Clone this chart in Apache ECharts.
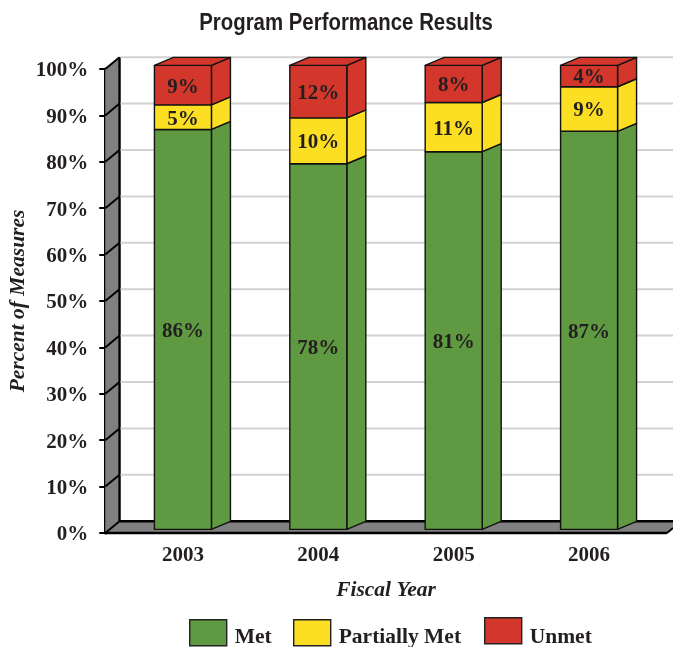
<!DOCTYPE html>
<html>
<head>
<meta charset="utf-8">
<style>html,body{margin:0;padding:0;background:#fff}#c{width:673px;height:647px}</style>
<script src="https://cdn.jsdelivr.net/npm/echarts@6/dist/echarts.min.js"></script>
</head>
<body>
<div id="c"></div>
<script>
const categories = ['2003', '2004', '2005', '2006'];
const met = [86.2, 78.8, 81.4, 85.8];
const partiallyMet = [5.3, 9.9, 10.6, 9.6];
const unmet = [8.5, 11.3, 8, 4.6];
const metLabels = ['86%', '78%', '81%', '87%'];
const partiallyMetLabels = ['5%', '10%', '11%', '9%'];
const unmetLabels = ['9%', '12%', '8%', '4%'];
const yTicks = [0, 10, 20, 30, 40, 50, 60, 70, 80, 90, 100];
const chartTitle = 'Program Performance Results';

const GREEN = '#5f9a42', YELLOW = '#fcdf22', RED = '#d3372b';
const SERIF = '"Liberation Serif", "DejaVu Serif", serif';
const INK = '#231f20';

// depth of the pseudo-3D look
const wallDX = 14.3, wallDY = -11.8, barDX = 19, barDY = -8, barLift = 3.6, barW = 57;
const axisOffset = 10;

function stackRows(values, lower, labels) {
  return values.map((v, i) => [i, lower[i], lower[i] + v, labels[i]]);
}
const base0 = categories.map(() => 0);
const base1 = met.slice();
const base2 = met.map((v, i) => v + partiallyMet[i]);

function renderBar(color) {
  return function (params, api) {
    const i = api.value(0);
    const low = api.coord([i, api.value(1)]);
    const high = api.coord([i, api.value(2)]);
    const x0 = low[0] - barW / 2, x1 = x0 + barW;
    const y0 = low[1] - barLift, y1 = high[1] - barLift;
    const st = { fill: color, stroke: '#111', lineWidth: 1.4, lineJoin: 'round' };
    const kids = [
      { type: 'polygon', shape: { points: [[x1, y0], [x1 + barDX, y0 + barDY], [x1 + barDX, y1 + barDY], [x1, y1]] }, style: st },
      { type: 'rect', shape: { x: x0, y: y1, width: barW, height: y0 - y1 }, style: st }
    ];
    if (params.seriesIndex === 3) {
      kids.push({ type: 'polygon', shape: { points: [[x0, y1], [x0 + barDX, y1 + barDY], [x1 + barDX, y1 + barDY], [x1, y1]] }, style: st });
    }
    kids.push({
      type: 'text',
      style: {
        text: api.value(3), x: (x0 + x1) / 2, y: (y0 + y1) / 2 + 2,
        align: 'center', verticalAlign: 'middle',
        font: 'bold 21px ' + SERIF, fill: INK
      }
    });
    return { type: 'group', children: kids };
  };
}

function renderWalls(params, api) {
  const v = api.value(0);
  const first = api.coord([0, v]);
  const yTop = api.coord([0, 100])[1], yBot = api.coord([0, 0])[1];
  const size = api.size([1, 0]);
  const x = first[0] - size[0] / 2 - axisOffset;
  const y = first[1];
  const bx = x + wallDX, W = api.getWidth();
  const kids = [];
  if (v === 0) {
    kids.push({ type: 'polygon', shape: { points: [[x, yBot], [x, yTop], [bx, yTop + wallDY], [bx, yBot + wallDY]] }, style: { fill: '#808080' } });
    kids.push({ type: 'polygon', shape: { points: [[x, yBot], [bx, yBot + wallDY], [W, yBot + wallDY], [W, yBot - 5], [W - 6, yBot]] }, style: { fill: '#808080' } });
    kids.push({ type: 'line', shape: { x1: bx, y1: yTop + wallDY, x2: bx, y2: yBot + wallDY }, style: { stroke: '#000', lineWidth: 2.4 } });
    kids.push({ type: 'line', shape: { x1: bx, y1: yBot + wallDY, x2: W, y2: yBot + wallDY }, style: { stroke: '#000', lineWidth: 2.4 } });
    kids.push({ type: 'line', shape: { x1: x, y1: yBot, x2: W - 6, y2: yBot }, style: { stroke: '#000', lineWidth: 2.4 } });
    kids.push({ type: 'line', shape: { x1: W - 6, y1: yBot, x2: W, y2: yBot - 5 }, style: { stroke: '#000', lineWidth: 2 } });
  } else {
    kids.push({ type: 'line', shape: { x1: bx + 1, y1: y + wallDY, x2: W, y2: y + wallDY }, style: { stroke: '#d2d2d2', lineWidth: 2 } });
  }
  kids.push({ type: 'line', shape: { x1: x, y1: y, x2: bx, y2: y + wallDY }, style: { stroke: '#000', lineWidth: 2 } });
  return { type: 'group', children: kids };
}

function swatchLegend(name, left, top, textPad) {
  return {
    data: [name], left: left, top: top, padding: 0,
    itemWidth: 37, itemHeight: 26, icon: 'rect', selectedMode: false,
    itemStyle: { borderColor: '#222', borderWidth: 1.4 },
    formatter: n => '{t|' + n + '}',
    textStyle: {
      rich: { t: { fontFamily: SERIF, fontWeight: 'bold', fontSize: 21.5, color: INK, padding: [textPad, 0, 0, 3] } }
    }
  };
}

const chart = echarts.init(document.getElementById('c'), null, { renderer: 'canvas', width: 673, height: 647 });
chart.setOption({
  animation: false,
  backgroundColor: '#fff',
  graphic: [{
    type: 'text', x: 346, y: 23, scaleX: 0.85, z: 10,
    style: { text: chartTitle, align: 'center', verticalAlign: 'middle', font: 'bold 24px "Liberation Sans", sans-serif', fill: INK }
  }],
  legend: [swatchLegend('Met', 189, 619, 10), swatchLegend('Partially Met', 293, 619, 10), swatchLegend('Unmet', 484, 617, 14)],
  grid: { left: 115.25, width: 541.5, top: 69, height: 464, outerBoundsMode: 'none', containLabel: false },
  xAxis: {
    type: 'category', data: categories,
    axisLine: { show: false }, axisTick: { show: false }, splitLine: { show: false },
    axisLabel: { margin: 12, fontFamily: SERIF, fontWeight: 'bold', fontSize: 21, color: INK },
    name: 'Fiscal Year', nameLocation: 'middle', nameGap: 46, nameMoveOverlap: false,
    nameTextStyle: { fontFamily: SERIF, fontWeight: 'bold', fontStyle: 'italic', fontSize: 21.5, color: INK }
  },
  yAxis: {
    type: 'value', min: 0, max: 100, interval: 10, offset: axisOffset,
    axisLine: { show: true, lineStyle: { color: '#000', width: 3 } },
    axisTick: { show: true, length: 6, lineStyle: { color: '#000', width: 2 } },
    splitLine: { show: false },
    axisLabel: {
      margin: 17, formatter: '{t|{value}%}',
      rich: { t: { fontFamily: SERIF, fontWeight: 'bold', fontSize: 21, color: INK, padding: [4, 0, 0, 0] } }
    },
    name: 'Percent of Measures', nameLocation: 'middle', nameGap: 76, nameRotate: 90, nameMoveOverlap: false,
    nameTextStyle: { fontFamily: SERIF, fontWeight: 'bold', fontStyle: 'italic', fontSize: 21.5, color: INK }
  },
  series: [
    { type: 'custom', name: 'walls', silent: true, z: 1, data: yTicks.map(v => [v]), renderItem: renderWalls, encode: { y: 0 }, clip: false },
    { type: 'custom', name: 'Met', z: 3, itemStyle: { color: GREEN }, data: stackRows(met, base0, metLabels), renderItem: renderBar(GREEN), encode: { x: 0, y: [1, 2] } },
    { type: 'custom', name: 'Partially Met', z: 3, itemStyle: { color: YELLOW }, data: stackRows(partiallyMet, base1, partiallyMetLabels), renderItem: renderBar(YELLOW), encode: { x: 0, y: [1, 2] } },
    { type: 'custom', name: 'Unmet', z: 3, itemStyle: { color: RED }, data: stackRows(unmet, base2, unmetLabels), renderItem: renderBar(RED), encode: { x: 0, y: [1, 2] } }
  ]
});
</script>
</body>
</html>
